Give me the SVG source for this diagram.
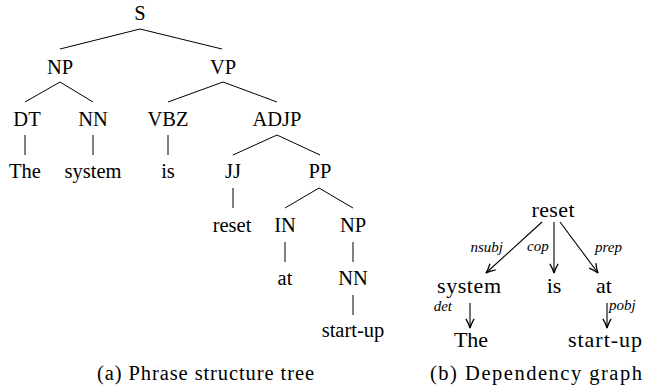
<svg xmlns="http://www.w3.org/2000/svg" width="647" height="388" viewBox="0 0 647 388" font-family="'Liberation Serif', 'Times New Roman', serif">
  <style>
    .t { font-size: 20.5px; text-anchor: middle; }
    .d { font-size: 22px; text-anchor: middle; }
    .lbl { font-style: italic; font-size: 15px; }
    .cap { font-size: 20.5px; }
    .e { stroke: #000; stroke-width: 1; fill: none; }
    .a { stroke: #000; stroke-width: 1.1; fill: none; marker-end: url(#arr); }
  </style>
  <defs>
    <!-- curved open arrowhead -->
    <marker id="arr" viewBox="0 0 12 12" refX="11" refY="6" markerWidth="11" markerHeight="11" markerUnits="userSpaceOnUse" orient="auto">
      <path d="M1,1.5 Q7,5 11,6 Q7,7 1,10.5" fill="none" stroke="#000" stroke-width="1.4"/>
    </marker>
  </defs>

  <rect width="647" height="388" fill="#fff"/>

  <!-- (a) phrase structure tree -->
  <g id="tree-edges">
    <path class="e" d="M140,29 L60,49 M140,29 L222,49"/>
    <path class="e" d="M60,82 L25,102 M60,82 L93,102"/>
    <path class="e" d="M223,82 L168,102 M223,82 L277,102"/>
    <path class="e" d="M25,135 L25,155 M93,135 L93,155 M168,135 L168,155"/>
    <path class="e" d="M277,135 L233,155 M277,135 L320,155"/>
    <path class="e" d="M233,188 L233,208"/>
    <path class="e" d="M319,188 L285,208 M319,188 L353,208"/>
    <path class="e" d="M285,242 L285,262 M353,242 L353,262"/>
    <path class="e" d="M353,295 L353,315"/>
  </g>
  <g id="tree-nodes">
    <g id="n-S"><text class="t" x="140" y="20">S</text></g>
    <g id="n-NP"><text class="t" x="60" y="74">NP</text></g>
    <g id="n-VP"><text class="t" x="223" y="74">VP</text></g>
    <g id="n-DT"><text class="t" x="27" y="126">DT</text></g>
    <g id="n-NN1"><text class="t" x="93" y="126">NN</text></g>
    <g id="n-VBZ"><text class="t" x="168" y="126">VBZ</text></g>
    <g id="n-ADJP"><text class="t" x="277" y="126">ADJP</text></g>
    <g id="w-The"><text class="t" x="25" y="178">The</text></g>
    <g id="w-system"><text class="t" x="93" y="178">system</text></g>
    <g id="w-is"><text class="t" x="168" y="178">is</text></g>
    <g id="n-JJ"><text class="t" x="233" y="178">JJ</text></g>
    <g id="n-PP"><text class="t" x="320" y="178">PP</text></g>
    <g id="w-reset"><text class="t" x="232" y="232">reset</text></g>
    <g id="n-IN"><text class="t" x="285" y="232">IN</text></g>
    <g id="n-NP2"><text class="t" x="353" y="232">NP</text></g>
    <g id="w-at"><text class="t" x="285" y="285">at</text></g>
    <g id="n-NN2"><text class="t" x="353" y="285">NN</text></g>
    <g id="w-startup"><text class="t" x="353" y="337">start-up</text></g>
  </g>
  <text class="cap" x="97" y="380" textLength="217" lengthAdjust="spacing">(a) Phrase structure tree</text>

  <!-- (b) dependency graph -->
  <g id="dep-edges">
    <path class="a" d="M542,222 L486,273"/>
    <path class="a" d="M554,222 L554,273"/>
    <path class="a" d="M560,222 L598,273"/>
    <path class="a" d="M470,303 L470,328"/>
    <path class="a" d="M607,303 L607,328"/>
    <text class="lbl" x="503" y="252" text-anchor="end">nsubj</text>
    <text class="lbl" x="527" y="251">cop</text>
    <text class="lbl" x="595" y="252">prep</text>
    <text class="lbl" x="452" y="311" text-anchor="end">det</text>
    <text class="lbl" x="609" y="310">pobj</text>
  </g>
  <g id="dep-nodes">
    <g id="d-reset"><text class="d" x="553" y="217" textLength="43" lengthAdjust="spacing">reset</text></g>
    <g id="d-system"><text class="d" x="469" y="293" textLength="64" lengthAdjust="spacing">system</text></g>
    <g id="d-is"><text class="d" x="554" y="293">is</text></g>
    <g id="d-at"><text class="d" x="604" y="293">at</text></g>
    <g id="d-The"><text class="d" x="471" y="347" textLength="34" lengthAdjust="spacing">The</text></g>
    <g id="d-startup"><text class="d" x="605" y="347" textLength="74" lengthAdjust="spacing">start-up</text></g>
  </g>
  <text class="cap" x="430" y="380" textLength="212" lengthAdjust="spacing">(b) Dependency graph</text>
</svg>
